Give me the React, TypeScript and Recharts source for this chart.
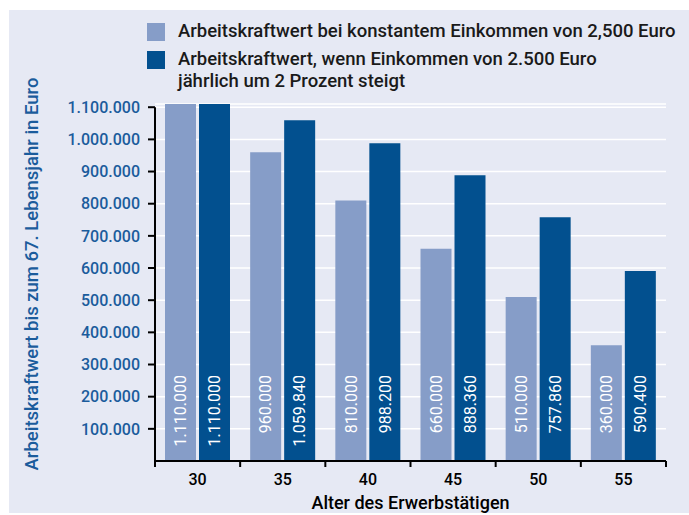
import React from 'react';
import { BarChart, Bar, XAxis, YAxis, CartesianGrid, LabelList, ReferenceLine } from 'recharts';

const ages = ['30', '35', '40', '45', '50', '55'];
const constantIncome = [1110000, 960000, 810000, 660000, 510000, 360000];
const risingIncome = [1110000, 1059840, 988200, 888360, 757860, 590400];
const yTicks = [100000, 200000, 300000, 400000, 500000, 600000, 700000, 800000, 900000, 1000000, 1100000];
const seriesNames = [
  'Arbeitskraftwert bei konstantem Einkommen von 2,500 Euro',
  'Arbeitskraftwert, wenn Einkommen von 2.500 Euro\njährlich um 2 Prozent steigt',
];
const xTitle = 'Alter des Erwerbstätigen';
const yTitle = 'Arbeitskraftwert bis zum 67. Lebensjahr in Euro';

const data = ages.map((age, i) => ({ age, constant: constantIncome[i], rising: risingIncome[i] }));

const COLORS = { light: '#869dc8', dark: '#02508f', bg: '#e6e9f4', blue: '#1b5c9c', text: '#1a1a1a' };
const FONT = 'Roboto, "Noto Sans", sans-serif';

const W = 680;
const H = 503;
const MARGIN = { top: 94, right: 23, bottom: 12, left: 0 };
const Y_W = 146;
const PLOT_W = W - MARGIN.left - MARGIN.right - Y_W;

const fmt = (v: number) => String(Math.round(v)).replace(/\B(?=(\d{3})+(?!\d))/g, '.');

const XTick = (props: any) => {
  const { x, y, payload, index } = props;
  const half = PLOT_W / ages.length / 2;
  const top = y - 6;
  return (
    <g>
      <line x1={x - half} y1={top} x2={x - half} y2={top + 6} stroke="#000" strokeWidth={2} />
      {index === ages.length - 1 && (
        <line x1={x + half} y1={top} x2={x + half} y2={top + 6} stroke="#000" strokeWidth={2} />
      )}
      <text x={x} y={top + 24} textAnchor="middle" fill="#000" fontSize={16} fontWeight={500} fontFamily={FONT}>
        {payload.value}
      </text>
    </g>
  );
};

const BarLabel = (props: any) => {
  const { x, y, width, height, value } = props;
  const cx = x + width / 2 + 5.7;
  const bottom = y + height;
  const ty = bottom - 86;
  return (
    <text
      x={cx}
      y={ty}
      transform={`rotate(-90, ${cx}, ${ty})`}
      textAnchor="end"
      fill="#ffffff"
      fontSize={16}
      fontFamily={FONT}
    >
      {fmt(value)}
    </text>
  );
};

const XTitle = (props: any) => {
  const vb = props.viewBox || {};
  return (
    <text x={vb.x + vb.width / 2} y={vb.y + 47.5} textAnchor="middle" fill="#000" fontSize={18} fontWeight={500} fontFamily={FONT}>
      {xTitle}
    </text>
  );
};

const YTitle = (props: any) => {
  const vb = props.viewBox || {};
  const cx = 29.3;
  const cy = vb.y + vb.height / 2 - 8.5;
  return (
    <text x={cx} y={cy} transform={`rotate(-90, ${cx}, ${cy})`} textAnchor="middle" fill={COLORS.blue} fontSize={18.5} fontWeight={500} fontFamily={FONT}>
      {yTitle}
    </text>
  );
};

const legendItems = [
  { name: seriesNames[0], color: COLORS.light },
  { name: seriesNames[1], color: COLORS.dark },
];

export default function App() {
  return (
    <div style={{ position: 'absolute', left: 9, top: 10, width: W, height: H, background: COLORS.bg }}>
      <BarChart width={W} height={H} data={data} margin={MARGIN} barGap={3} barSize={31}>
        <CartesianGrid vertical={false} stroke="#ffffff" strokeWidth={1.5} />
        <XAxis
          dataKey="age"
          height={40}
          axisLine={{ stroke: '#000', strokeWidth: 2 }}
          tickLine={false}
          tickSize={6}
          tickMargin={0}
          tick={<XTick />}
          interval={0}
          label={<XTitle />}
        />
        <YAxis
          width={Y_W}
          domain={[0, 1110000]}
          ticks={yTicks}
          allowDataOverflow={false}
          axisLine={false}
          tickLine={{ stroke: '#000', strokeWidth: 2 }}
          tickSize={7}
          tickMargin={8}
          tickFormatter={fmt}
          tick={{ fill: COLORS.blue, fontSize: 16, fontWeight: 500, fontFamily: FONT }}
          label={<YTitle />}
        />
        <ReferenceLine
          segment={[{ x: ages[0], y: 0 }, { x: ages[0], y: yTicks[yTicks.length - 1] }]}
          position="start"
          stroke="#000"
          strokeWidth={2}
          ifOverflow="visible"
        />
        <Bar dataKey="constant" fill={COLORS.light} isAnimationActive={false}>
          <LabelList dataKey="constant" content={<BarLabel />} />
        </Bar>
        <Bar dataKey="rising" fill={COLORS.dark} isAnimationActive={false}>
          <LabelList dataKey="rising" content={<BarLabel />} />
        </Bar>
      </BarChart>
      <div style={{ position: 'absolute', left: 138, top: 13, fontFamily: FONT, fontSize: 18.5, fontWeight: 500, color: COLORS.text }}>
        {legendItems.map((item, i) => (
          <div key={i} style={{ position: 'relative', height: i === 0 ? 28 : 50 }}>
            <div style={{ position: 'absolute', left: 0, top: 0, width: 18, height: 18, background: item.color }} />
            <div style={{ position: 'absolute', left: 31, top: -3, lineHeight: '22px', whiteSpace: 'pre' }}>{item.name}</div>
          </div>
        ))}
      </div>
    </div>
  );
}
